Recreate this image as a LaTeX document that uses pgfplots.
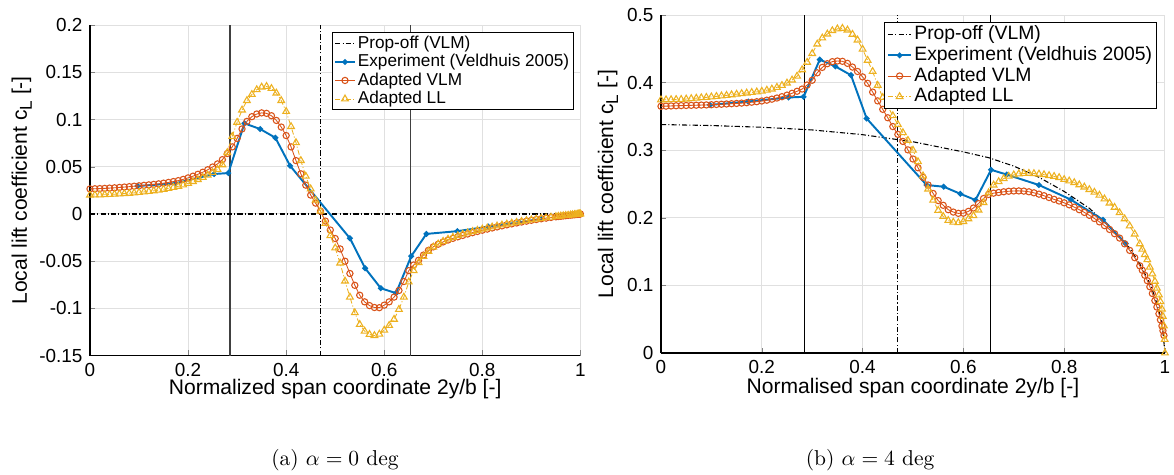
\documentclass[border=0pt]{standalone}
\usepackage{pgfplots}
\pgfplotsset{compat=1.18}
\usepackage{pgfplotstable}
\usepackage{fontspec}
\newfontfamily\arial{Liberation Sans}
\definecolor{mblue}{rgb}{0,0.447,0.741}
\definecolor{morange}{rgb}{0.85,0.325,0.098}
\definecolor{myellow}{rgb}{0.929,0.694,0.125}

\pgfplotstableread{
x vlm ll
0.00 0.0265 0.0200
0.01 0.0267 0.0201
0.02 0.0269 0.0202
0.03 0.0271 0.0204
0.04 0.0274 0.0206
0.05 0.0277 0.0209
0.06 0.0281 0.0212
0.07 0.0285 0.0216
0.08 0.0289 0.0219
0.09 0.0294 0.0223
0.10 0.0298 0.0228
0.11 0.0303 0.0233
0.12 0.0308 0.0238
0.13 0.0313 0.0245
0.14 0.0319 0.0252
0.15 0.0326 0.0261
0.16 0.0334 0.0270
0.17 0.0343 0.0281
0.18 0.0353 0.0293
0.19 0.0366 0.0307
0.20 0.0382 0.0324
0.21 0.0400 0.0343
0.22 0.0420 0.0364
0.23 0.0442 0.0387
0.24 0.0468 0.0412
0.25 0.0497 0.0440
0.26 0.0530 0.0472
0.27 0.0575 0.0520
0.28 0.0640 0.0650
0.29 0.0710 0.0820
0.30 0.0800 0.0970
0.31 0.0900 0.1100
0.32 0.0980 0.1200
0.33 0.1030 0.1265
0.34 0.1058 0.1315
0.35 0.1070 0.1343
0.36 0.1065 0.1350
0.37 0.1040 0.1328
0.38 0.0990 0.1280
0.39 0.0920 0.1200
0.40 0.0830 0.1085
0.41 0.0710 0.0925
0.42 0.0565 0.0755
0.43 0.0425 0.0565
0.44 0.0305 0.0400
0.45 0.0200 0.0265
0.46 0.0115 0.0145
0.47 0.0030 0.0030
0.48 -0.0075 -0.0100
0.49 -0.0170 -0.0230
0.50 -0.0260 -0.0360
0.51 -0.0370 -0.0520
0.52 -0.0500 -0.0710
0.53 -0.0630 -0.0880
0.54 -0.0755 -0.1045
0.55 -0.0860 -0.1170
0.56 -0.0930 -0.1240
0.57 -0.0970 -0.1275
0.58 -0.0990 -0.1287
0.59 -0.0992 -0.1272
0.60 -0.0965 -0.1230
0.61 -0.0930 -0.1180
0.62 -0.0880 -0.1115
0.63 -0.0810 -0.1010
0.64 -0.0715 -0.0880
0.65 -0.0600 -0.0720
0.66 -0.0540 -0.0600
0.67 -0.0490 -0.0515
0.68 -0.0435 -0.0450
0.69 -0.0385 -0.0395
0.70 -0.0348 -0.0350
0.71 -0.0320 -0.0318
0.72 -0.0296 -0.0290
0.73 -0.0276 -0.0267
0.74 -0.0258 -0.0247
0.75 -0.0242 -0.0230
0.76 -0.0227 -0.0214
0.77 -0.0212 -0.0200
0.78 -0.0198 -0.0186
0.79 -0.0185 -0.0173
0.80 -0.0172 -0.0160
0.81 -0.0160 -0.0149
0.82 -0.0148 -0.0138
0.83 -0.0137 -0.0127
0.84 -0.0126 -0.0117
0.85 -0.0115 -0.0107
0.86 -0.0105 -0.0097
0.87 -0.0095 -0.0088
0.88 -0.0085 -0.0079
0.89 -0.0076 -0.0070
0.90 -0.0067 -0.0062
0.91 -0.0059 -0.0054
0.92 -0.0051 -0.0047
0.93 -0.0044 -0.0040
0.94 -0.0037 -0.0034
0.95 -0.0030 -0.0028
0.955 -0.0027 -0.0025
0.96 -0.0024 -0.0022
0.965 -0.0021 -0.0019
0.97 -0.0018 -0.0016
0.975 -0.0015 -0.0014
0.98 -0.0012 -0.0011
0.984 -0.0010 -0.0009
0.988 -0.0008 -0.0007
0.991 -0.0006 -0.0005
0.994 -0.0004 -0.0004
0.996 -0.0003 -0.0002
0.998 -0.0002 -0.0001
1.000 0.0000 0.0000
}\leftdata

\pgfplotstableread{
x vlm ll
0.00 0.3650 0.3745
0.01 0.3652 0.3746
0.02 0.3655 0.3748
0.03 0.3658 0.3750
0.04 0.3660 0.3752
0.05 0.3662 0.3757
0.06 0.3664 0.3763
0.07 0.3666 0.3770
0.08 0.3668 0.3776
0.09 0.3670 0.3782
0.10 0.3673 0.3789
0.11 0.3677 0.3796
0.12 0.3680 0.3803
0.13 0.3684 0.3811
0.14 0.3688 0.3820
0.15 0.3692 0.3829
0.16 0.3697 0.3838
0.17 0.3703 0.3846
0.18 0.3710 0.3855
0.19 0.3718 0.3862
0.20 0.3728 0.3872
0.21 0.3740 0.3888
0.22 0.3755 0.3905
0.23 0.3772 0.3930
0.24 0.3792 0.3958
0.25 0.3815 0.3993
0.26 0.3842 0.4038
0.27 0.3872 0.4095
0.28 0.3905 0.4190
0.29 0.3965 0.4300
0.30 0.4035 0.4430
0.31 0.4145 0.4570
0.32 0.4225 0.4660
0.33 0.4280 0.4718
0.34 0.4310 0.4768
0.35 0.4320 0.4795
0.36 0.4315 0.4803
0.37 0.4285 0.4778
0.38 0.4230 0.4715
0.39 0.4165 0.4630
0.40 0.4085 0.4495
0.41 0.3990 0.4330
0.42 0.3860 0.4165
0.43 0.3730 0.3960
0.44 0.3605 0.3780
0.45 0.3480 0.3650
0.46 0.3350 0.3510
0.47 0.3235 0.3380
0.48 0.3130 0.3260
0.49 0.3005 0.3145
0.50 0.2870 0.3000
0.51 0.2740 0.2830
0.52 0.2600 0.2620
0.53 0.2485 0.2425
0.54 0.2360 0.2260
0.55 0.2255 0.2110
0.56 0.2185 0.2020
0.57 0.2120 0.1960
0.58 0.2085 0.1935
0.59 0.2066 0.1928
0.60 0.2068 0.1945
0.61 0.2095 0.1985
0.62 0.2145 0.2031
0.63 0.2210 0.2115
0.64 0.2285 0.2225
0.65 0.2345 0.2370
0.66 0.2365 0.2485
0.67 0.2375 0.2535
0.68 0.2385 0.2580
0.69 0.2393 0.2615
0.70 0.2397 0.2635
0.71 0.2398 0.2650
0.72 0.2395 0.2657
0.73 0.2385 0.2658
0.74 0.2370 0.2654
0.75 0.2350 0.2647
0.76 0.2327 0.2638
0.77 0.2300 0.2625
0.78 0.2273 0.2612
0.79 0.2248 0.2595
0.80 0.2222 0.2567
0.81 0.2192 0.2545
0.82 0.2158 0.2520
0.83 0.2120 0.2488
0.84 0.2080 0.2455
0.85 0.2037 0.2418
0.86 0.1990 0.2378
0.87 0.1940 0.2335
0.88 0.1885 0.2280
0.89 0.1828 0.2218
0.90 0.1765 0.2155
0.91 0.1700 0.2075
0.92 0.1615 0.1985
0.93 0.1518 0.1880
0.94 0.1410 0.1760
0.95 0.1290 0.1615
0.955 0.1225 0.1535
0.96 0.1150 0.1455
0.965 0.1070 0.1380
0.97 0.0980 0.1270
0.975 0.0880 0.1170
0.98 0.0775 0.1060
0.984 0.0680 0.0960
0.988 0.0580 0.0860
0.991 0.0490 0.0760
0.994 0.0400 0.0650
0.996 0.0330 0.0540
0.998 0.0260 0.0400
0.9995 nan 0.0200
1.000 nan 0.0000
}\rightdata

\pgfplotsset{
  myaxis/.style={
    scale only axis,
    axis x line*=bottom, axis y line*=left,
    tick align=inside,
    major tick length=2.5pt,
    grid=major,
    grid style={black!12, line width=0.45pt},
    axis line style={line width=0.5pt},
    xmin=0, xmax=1,
    xtick={0,0.2,0.4,0.6,0.8,1},
    clip mode=individual,
    font=\arial\fontsize{8.8}{10}\selectfont,
    /pgf/number format/assume math mode=true,
    yticklabel style={/pgf/number format/fixed,/pgf/number format/precision=2},
    xticklabel style={/pgf/number format/fixed,/pgf/number format/precision=1},
    label style={font=\arial\fontsize{9.8}{11}\selectfont},
    legend style={anchor=north east,
      draw=black, line width=0.5pt, inner xsep=1pt, inner ysep=0.8pt,
      row sep=0pt, cells={anchor=west}},
    legend cell align=left,
  },
  propstyle/.style={black, line width=0.5pt, dash pattern=on 2.4pt off 1pt on 0.5pt off 1pt},
  expstyle/.style={mblue, line width=0.9pt, mark=*, mark size=0.85pt},
  vlmstyle/.style={morange, line width=0.4pt, mark=o, mark size=1.45pt, mark options={solid, line width=0.5pt}},
  llstyle/.style={myellow, line width=0.4pt, dash pattern=on 2.4pt off 1pt on 0.5pt off 1pt, mark=triangle, mark size=1.8pt, mark options={solid, line width=0.5pt}},
}

\begin{document}
\begin{tikzpicture}
\path[use as bounding box] (0,0) rectangle (546.05pt,-220.93pt);

\begin{axis}[myaxis,
  at={(41.86pt,-165.44pt)}, anchor=south west,
  width=228.1pt, height=153.8pt,
  ymin=-0.15, ymax=0.2,
  ytick={-0.15,-0.1,-0.05,0,0.05,0.1,0.15,0.2},
  xlabel={Normalized span coordinate 2y/b [-]},
  ylabel={Local lift coefficient c\raisebox{-0.45ex}{\fontsize{8}{9}\selectfont L} [-]},
  xlabel style={at={(axis description cs:0.5,-0.1)}, anchor=center},
  ylabel style={at={(axis description cs:-0.139,0.5)}, anchor=center},
  legend style={at={(axis description cs:0.987,0.979)},
    font=\arial\fontsize{8}{8.6}\selectfont,
    nodes={inner xsep=1pt, inner ysep=0.2pt, text height=6.3pt, text depth=1.9pt}},
  legend image code/.code={\draw[mark repeat=2,mark phase=2] plot coordinates {(0cm,0cm) (0.16cm,0cm) (0.32cm,0cm)};},
]
\addplot[black!75, line width=0.6pt, forget plot] coordinates {(0.2857,-0.15) (0.2857,0.2)};
\addplot[black!75, line width=0.6pt, forget plot] coordinates {(0.653,-0.15) (0.653,0.2)};
\addplot[black, line width=0.4pt, dash pattern=on 2.4pt off 1pt on 0.5pt off 1pt, forget plot] coordinates {(0.469,-0.15) (0.469,0.2)};
\addplot[propstyle] coordinates {(0,0) (1,0)};
\addlegendentry{Prop-off (VLM)}
\addplot[expstyle] coordinates {
(0.097,0.0296) (0.173,0.0324) (0.253,0.0423) (0.282,0.0433) (0.315,0.0959)
(0.347,0.0899) (0.378,0.0807) (0.408,0.0510) (0.530,-0.0257) (0.561,-0.0574)
(0.593,-0.0786) (0.624,-0.0838) (0.655,-0.0447) (0.686,-0.0211) (0.749,-0.0182)
(0.812,-0.0134) (0.875,-0.0088) (0.922,-0.0050)};
\addlegendentry{Experiment (Veldhuis 2005)}
\addplot[vlmstyle] table[x=x,y=vlm] {\leftdata};
\addlegendentry{Adapted VLM}
\addplot[llstyle] table[x=x,y=ll] {\leftdata};
\addlegendentry{Adapted LL}
\end{axis}

\begin{axis}[myaxis,
  at={(307.44pt,-164.19pt)}, anchor=south west,
  width=234.4pt, height=157.2pt,
  ymin=0, ymax=0.5,
  ytick={0,0.1,0.2,0.3,0.4,0.5},
  xlabel={Normalised span coordinate 2y/b [-]},
  ylabel={Local lift coefficient c\raisebox{-0.45ex}{\fontsize{8}{9}\selectfont L} [-]},
  xlabel style={at={(axis description cs:0.5,-0.104)}, anchor=center},
  ylabel style={at={(axis description cs:-0.105,0.5)}, anchor=center},
  legend style={at={(axis description cs:0.984,0.979)},
    font=\arial\fontsize{9}{9.6}\selectfont,
    nodes={inner xsep=1pt, inner ysep=0.2pt, text height=7pt, text depth=2.2pt}},
  legend image code/.code={\draw[mark repeat=2,mark phase=2] plot coordinates {(0cm,0cm) (0.19cm,0cm) (0.38cm,0cm)};},
]
\addplot[black, line width=0.45pt, forget plot] coordinates {(0.2857,0) (0.2857,0.5)};
\addplot[black, line width=0.45pt, forget plot] coordinates {(0.653,0) (0.653,0.5)};
\addplot[black, line width=0.4pt, dash pattern=on 2.4pt off 1pt on 0.5pt off 1pt, forget plot] coordinates {(0.469,0) (0.469,0.5)};
\addplot[propstyle] coordinates {
(0,0.338) (0.1,0.3365) (0.2,0.334) (0.3,0.330) (0.4,0.323) (0.5,0.3125)
(0.6,0.2975) (0.65,0.289) (0.7,0.2765) (0.75,0.260) (0.8,0.239) (0.85,0.214)
(0.9,0.180) (0.93,0.155) (0.95,0.132) (0.97,0.103) (0.98,0.083) (0.99,0.057)
(0.995,0.039) (1.0,0.0)};
\addlegendentry{Prop-off (VLM)}
\addplot[expstyle] coordinates {
(0.097,0.367) (0.173,0.372) (0.253,0.378) (0.283,0.379) (0.315,0.434)
(0.346,0.424) (0.377,0.411) (0.408,0.347) (0.527,0.2485) (0.561,0.246)
(0.594,0.2355) (0.624,0.2263) (0.655,0.2710) (0.686,0.264) (0.750,0.2485)
(0.813,0.227) (0.877,0.197) (0.922,0.162)};
\addlegendentry{Experiment (Veldhuis 2005)}
\addplot[vlmstyle] table[x=x,y=vlm] {\rightdata};
\addlegendentry{Adapted VLM}
\addplot[llstyle] table[x=x,y=ll] {\rightdata};
\addlegendentry{Adapted LL}
\end{axis}

\node[font=\fontsize{10}{12}\selectfont] at (155.8pt,-214pt) {(a) $\alpha = 0$ deg};
\node[font=\fontsize{10}{12}\selectfont] at (404.7pt,-214pt) {(b) $\alpha = 4$ deg};
\end{tikzpicture}
\end{document}
